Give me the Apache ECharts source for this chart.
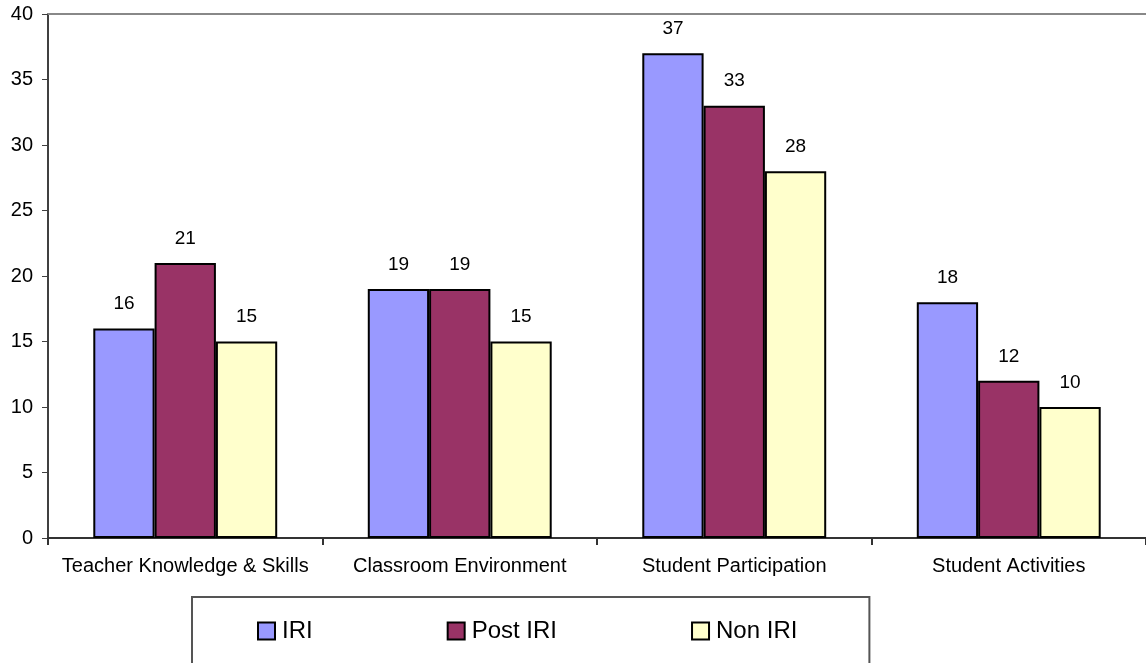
<!DOCTYPE html>
<head>
    <meta charset="utf-8">
    <title>ECharts</title>
</head>
<body style="margin:0">
   <div id="main" style="width:1146px;height:663px"></div>
     <script src="https://cdn.jsdelivr.net/npm/echarts@6/dist/echarts.min.js"></script>
      <script type="text/javascript">

    var categories = ['Teacher Knowledge & Skills', 'Classroom Environment', 'Student Participation', 'Student Activities'];
    var iri = [16, 19, 37, 18];
    var postIri = [21, 19, 33, 12];
    var nonIri = [15, 15, 28, 10];
    var yTicks = {min: 0, max: 40, step: 5};

    var myChart = echarts.init(document.getElementById('main'));

    function bar(name, data, color) {
        return {
            name: name,
            type: 'bar',
            data: data,
            barGap: '0%',
            barCategoryGap: '33%',
            itemStyle: {color: color, borderColor: '#000', borderWidth: 2},
            label: {
                show: true,
                position: 'top',
                distance: 15,
                color: '#000',
                fontSize: 19,
                fontFamily: 'Liberation Sans'
            }
        };
    }

    var option = {
        animation: false,
        textStyle: {fontFamily: 'Liberation Sans'},
        grid: {left: 48, top: 14, width: 1104, height: 524, containLabel: false},
        legend: {
            left: 192,
            top: 597,
            itemWidth: 17,
            itemHeight: 17,
            itemGap: 134,
            padding: [22, 72, 30, 65],
            borderColor: '#555',
            borderWidth: 2,
            icon: 'rect',
            itemStyle: {borderColor: '#000', borderWidth: 2},
            textStyle: {fontSize: 24, color: '#000', padding: [0, 0, 0, 2]},
            data: ['IRI', 'Post IRI', 'Non IRI']
        },
        xAxis: [{
            type: 'category',
            data: categories,
            axisLine: {lineStyle: {color: '#333', width: 2}},
            axisTick: {show: true, interval: 0, length: 7, lineStyle: {color: '#333', width: 2}},
            axisLabel: {interval: 0, fontSize: 20, color: '#000', margin: 18}
        }, {
            type: 'category',
            position: 'top',
            data: categories,
            axisLine: {lineStyle: {color: '#888', width: 2}},
            axisTick: {show: false},
            axisLabel: {show: false}
        }],
        yAxis: {
            type: 'value',
            min: yTicks.min,
            max: yTicks.max,
            interval: yTicks.step,
            axisLine: {show: true, lineStyle: {color: '#404040', width: 2}},
            axisTick: {show: true, length: 6, lineStyle: {color: '#404040', width: 1}},
            axisLabel: {fontSize: 20, color: '#000', margin: 15},
            splitLine: {show: false}
        },
        series: [
            bar('IRI', iri, '#9999FF'),
            bar('Post IRI', postIri, '#993366'),
            bar('Non IRI', nonIri, '#FFFFCC')
        ]
    };
    myChart.setOption(option);

</script>
</body>
